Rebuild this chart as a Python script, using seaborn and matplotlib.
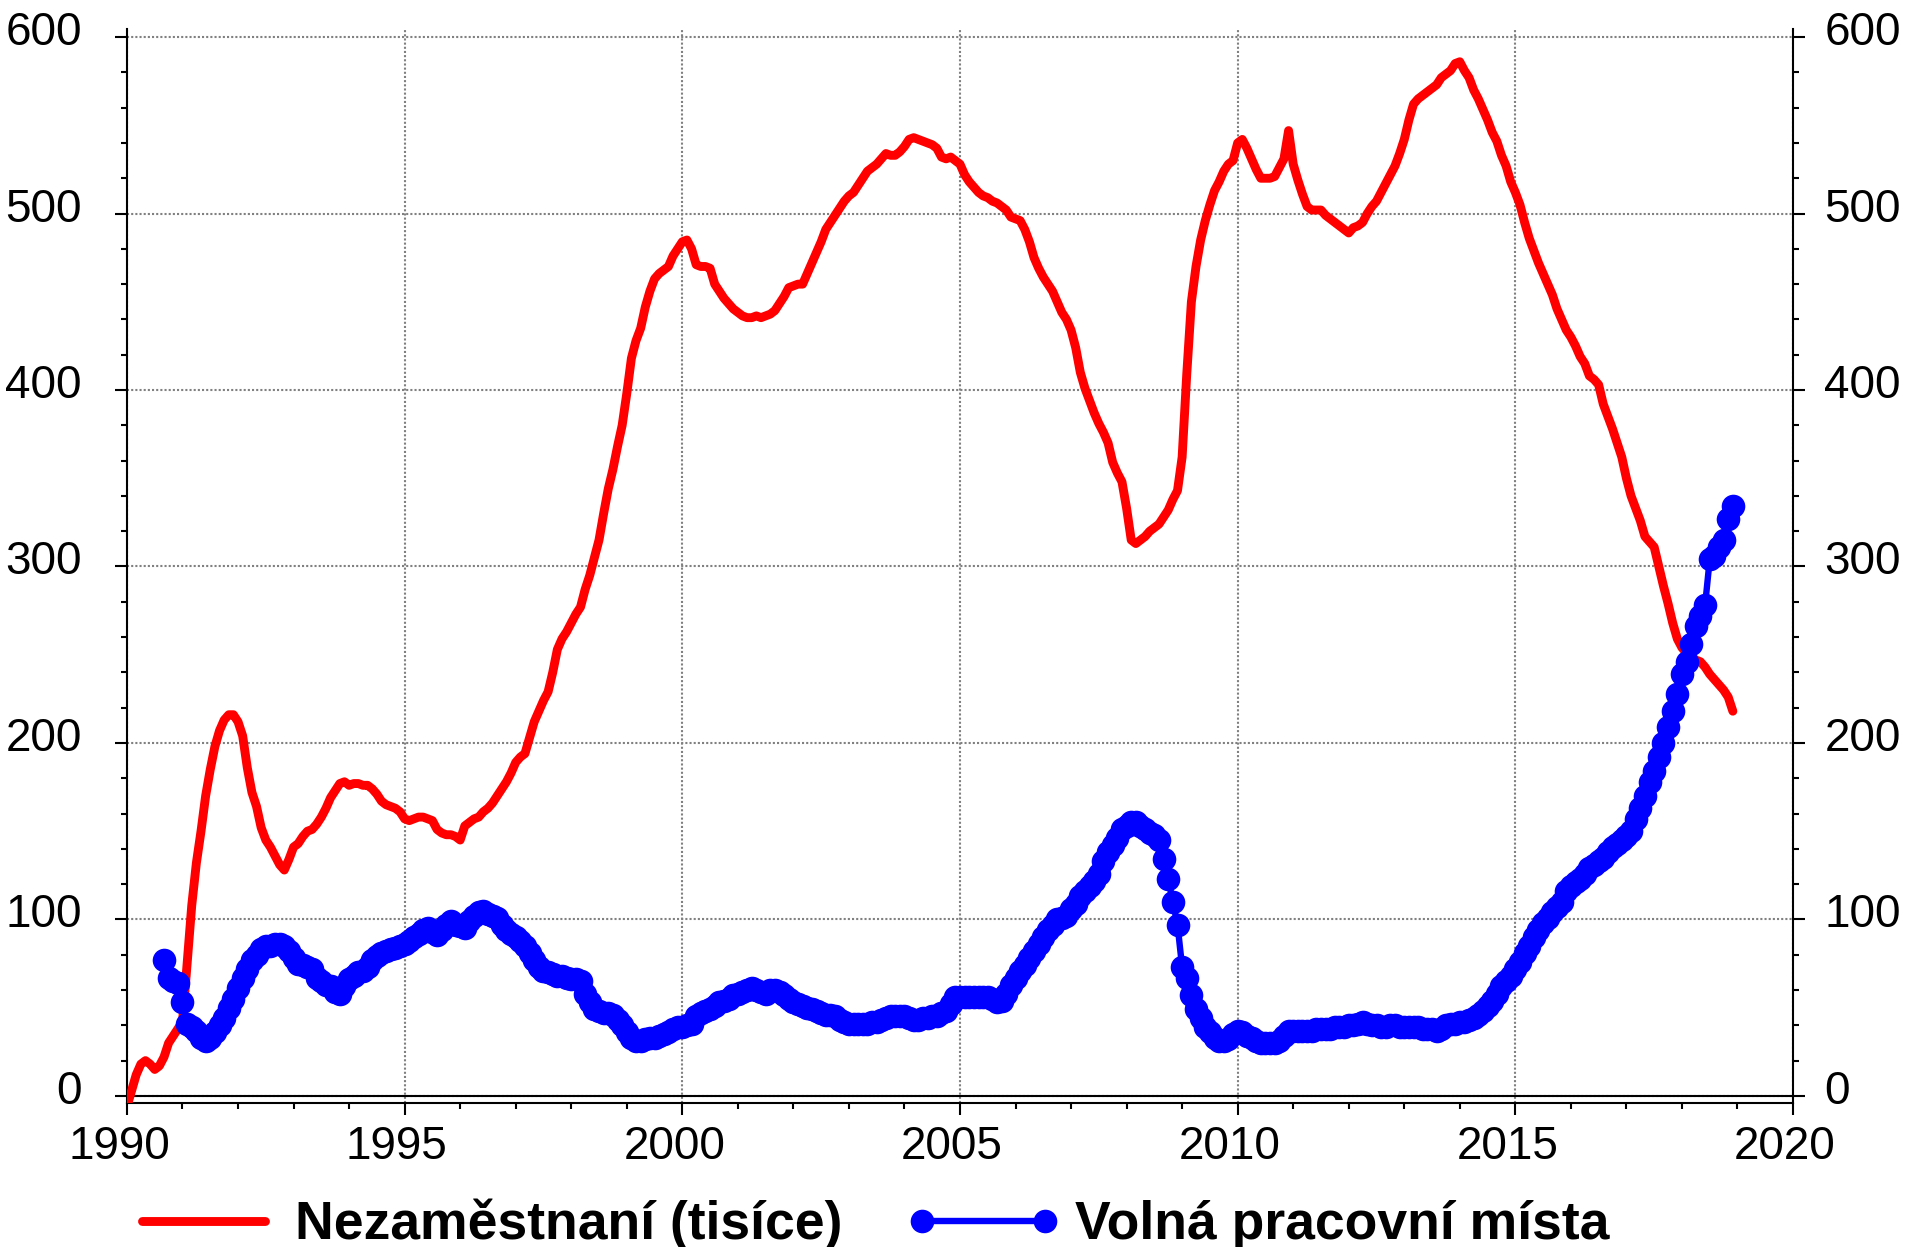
import matplotlib
matplotlib.use("Agg")
import matplotlib.pyplot as plt
import matplotlib.transforms as mtransforms
from matplotlib.ticker import MultipleLocator
import seaborn as sns
import pandas as pd
import numpy as np

sns.set_theme(style="ticks")
plt.rcParams["font.family"] = ["Liberation Sans", "DejaVu Sans"]

RED = "#FF0000"
BLUE = "#0000FF"
GRID = "#808080"

# ─── Data (thousands, monthly) ────────────────────────────────────────────────
# Nezaměstnaní, Jan 1990 - Dec 2018
unemployed = [
    -6, 3, 12, 18, 20, 18, 15, 17, 22, 30, 34, 38,               # 1990
    42, 75, 108, 132, 150, 170, 185, 198, 207, 213, 216, 216,    # 1991
    212, 204, 186, 172, 164, 152, 145, 141, 136, 131, 128, 134,  # 1992
    141, 143, 147, 150, 151, 154, 158, 163, 169, 173, 177, 178,  # 1993
    176, 177, 177, 176, 176, 174, 171, 167, 165, 164, 163, 161,  # 1994
    157, 156, 157, 158, 158, 157, 156, 151, 149, 148, 148, 147,  # 1995
    145, 153, 155, 157, 158, 161, 163, 166, 170, 174, 178, 183,  # 1996
    189, 192, 194, 203, 212, 218, 224, 229, 240, 253, 259, 263,  # 1997
    268, 273, 277, 287, 295, 305, 315, 330, 344, 355, 368, 380,  # 1998
    398, 418, 428, 435, 447, 456, 463, 466, 468, 470, 476, 480,  # 1999
    484, 485, 480, 471, 470, 470, 469, 460, 456, 452, 449, 446,  # 2000
    444, 442, 441, 441, 442, 441, 442, 443, 445, 449, 453, 458,  # 2001
    459, 460, 460, 466, 472, 478, 484, 491, 495, 499, 503, 507,  # 2002
    510, 512, 516, 520, 524, 526, 528, 531, 534, 533, 533, 535,  # 2003
    538, 542, 543, 542, 541, 540, 539, 537, 532, 531, 532, 530,  # 2004
    528, 522, 518, 515, 512, 510, 509, 507, 506, 504, 502, 498,  # 2005
    497, 496, 491, 484, 475, 469, 464, 460, 456, 450, 444, 440,  # 2006
    434, 424, 410, 401, 394, 387, 381, 376, 370, 359, 353, 348,  # 2007
    333, 315, 313, 315, 317, 320, 322, 324, 328, 332, 338, 343,  # 2008
    362, 409, 450, 470, 485, 496, 505, 513, 518, 524, 528, 530,  # 2009
    540, 542, 537, 531, 525, 520, 520, 520, 521, 526, 531, 547,  # 2010
    528, 519, 511, 504, 502, 502, 502, 499, 497, 495, 493, 491,  # 2011
    489, 492, 493, 495, 500, 504, 507, 512, 517, 522, 527, 534,  # 2012
    542, 553, 562, 565, 567, 569, 571, 573, 577, 579, 581, 585,  # 2013
    586, 581, 577, 570, 565, 559, 553, 546, 541, 533, 527, 518,  # 2014
    512, 505, 495, 486, 479, 472, 466, 460, 454, 446, 440, 434,  # 2015
    430, 425, 419, 415, 408, 406, 403, 392, 385, 378, 370, 362,  # 2016
    350, 340, 333, 326, 317, 314, 311, 300, 289, 279, 268, 259,  # 2017
    254, 251, 249, 247, 246, 243, 239, 236, 233, 230, 226, 218,  # 2018
]

# Volná pracovní místa, Sep 1990 - Dec 2018
vacancies = [
    77, 67, 65, 64,                                              # 1990
    53, 41, 39, 37, 33, 31, 33, 36, 40, 44, 50, 55,              # 1991
    61, 67, 72, 77, 80, 83, 85, 85, 86, 86, 85, 82,              # 1992
    78, 75, 74, 73, 72, 67, 65, 63, 62, 59, 58, 62,              # 1993
    66, 68, 70, 71, 73, 77, 79, 81, 82, 83, 84, 85,              # 1994
    86, 88, 90, 92, 94, 95, 93, 91, 94, 97, 99, 97,              # 1995
    96, 95, 99, 102, 104, 105, 103, 102, 101, 97, 94, 92,        # 1996
    90, 88, 85, 81, 77, 73, 71, 70, 69, 68, 68, 67,              # 1997
    66, 66, 65, 58, 53, 49, 48, 47, 47, 46, 43, 40,              # 1998
    36, 33, 31, 31, 32, 33, 33, 34, 35, 36, 38, 39,              # 1999
    39, 40, 41, 45, 47, 48, 49, 51, 53, 54, 55, 57,              # 2000
    58, 59, 60, 61, 60, 59, 58, 60, 60, 59, 57, 55,              # 2001
    53, 52, 51, 50, 49, 48, 47, 46, 46, 45, 43, 42,              # 2002
    41, 41, 41, 41, 41, 42, 42, 43, 44, 45, 45, 45,              # 2003
    45, 44, 43, 43, 44, 44, 45, 45, 47, 48, 52, 56,              # 2004
    56, 56, 56, 56, 56, 56, 56, 55, 53, 54, 58, 63,              # 2005
    67, 71, 74, 78, 82, 86, 90, 94, 97, 100, 101, 102,           # 2006
    106, 109, 113, 116, 119, 122, 126, 133, 138, 142, 146, 151,  # 2007
    153, 155, 155, 153, 151, 149, 148, 145, 134, 123, 110, 97,   # 2008
    73, 67, 57, 49, 44, 39, 36, 33, 31, 31, 32, 35,              # 2009
    37, 36, 34, 33, 31, 30, 30, 30, 30, 31, 34, 37,              # 2010
    37, 37, 37, 37, 37, 38, 38, 38, 38, 39, 39, 39,              # 2011
    40, 40, 41, 42, 41, 40, 40, 39, 39, 40, 40, 39,              # 2012
    39, 39, 39, 39, 38, 38, 38, 37, 38, 40, 41, 41,              # 2013
    42, 42, 43, 44, 46, 48, 51, 54, 58, 62, 65, 68,              # 2014
    72, 76, 81, 85, 90, 94, 98, 101, 104, 107, 110, 116,         # 2015
    119, 121, 123, 126, 129, 131, 133, 135, 138, 141, 143, 145,  # 2016
    147, 150, 157, 163, 170, 178, 184, 192, 200, 209, 218, 228,  # 2017
    239, 246, 256, 266, 272, 278, 304, 306, 311, 315, 327, 334,  # 2018
]

UNEMP_START = 1990.0          # January 1990
VAC_START = 1990 + 8 / 12     # September 1990

x_ticks = [1990, 1995, 2000, 2005, 2010, 2015, 2020]
y_ticks = [0, 100, 200, 300, 400, 500, 600]
unemp_label = "Nezaměstnaní (tisíce)"
vac_label = "Volná pracovní místa"

df_u = pd.DataFrame({"rok": UNEMP_START + np.arange(len(unemployed)) / 12,
                     "hodnota": unemployed})
df_v = pd.DataFrame({"rok": VAC_START + np.arange(len(vacancies)) / 12,
                     "hodnota": vacancies})

# ─── Figure ───────────────────────────────────────────────────────────────────
fig = plt.figure(figsize=(19.15, 12.47), dpi=100)
ax = fig.add_axes([0.0663, 0.1155, 0.8700, 0.8610])

sns.lineplot(data=df_u, x="rok", y="hodnota", color=RED,
             label=unemp_label, ax=ax, zorder=3)
red_line = ax.lines[-1]
sns.lineplot(data=df_v, x="rok", y="hodnota", color=BLUE, marker="o",
             label=vac_label, ax=ax, zorder=4)
blue_line = ax.lines[-1]

# seaborn's context scaling can win over kwargs, so set the styles on the lines
red_line.set_linewidth(6.4)
blue_line.set_linewidth(4.6)
blue_line.set_markersize(17)
blue_line.set_markeredgewidth(0)
blue_line.set_markerfacecolor(BLUE)

ax.axhline(0, color="black", linewidth=1.5, zorder=2)

ax.set_xlim(1990, 2020)
ax.set_ylim(-4, 604.4)
ax.set_xlabel("")
ax.set_ylabel("")
ax.set_xticks(x_ticks)
ax.set_yticks(y_ticks)
ax.xaxis.set_minor_locator(MultipleLocator(1))
ax.yaxis.set_minor_locator(MultipleLocator(20))
ax.grid(True, which="major", color=GRID, linestyle=(0, (1, 1)), linewidth=1.5, zorder=1)

for side in ["top", "right"]:
    ax.spines[side].set_visible(False)
for side in ["left", "bottom"]:
    ax.spines[side].set_linewidth(1.5)
    ax.spines[side].set_color("black")

ax.tick_params(axis="both", which="major", direction="out", length=8.6, width=1.5,
               color="black", labelsize=33, labelcolor="black")
ax.tick_params(axis="both", which="minor", direction="out", length=4.6, width=1.5,
               color="black")
ax.tick_params(axis="x", which="major", pad=7)
ax.tick_params(axis="y", which="major", pad=24)

# right-hand axis, same scale
ax2 = ax.twinx()
ax2.set_ylim(ax.get_ylim())
ax2.set_yticks(y_ticks)
ax2.yaxis.set_minor_locator(MultipleLocator(20))
for side in ["top", "left", "bottom"]:
    ax2.spines[side].set_visible(False)
ax2.spines["right"].set_linewidth(1.5)
ax2.spines["right"].set_color("black")
ax2.tick_params(axis="y", which="major", direction="out", length=8.6, width=1.5,
                color="black", labelsize=33, labelcolor="black", pad=14)
ax2.tick_params(axis="y", which="minor", direction="out", length=4.6, width=1.5,
                color="black")
ax2.grid(False)

# labels sit slightly above their ticks in the original
up = mtransforms.ScaledTranslation(0, 0.09, fig.dpi_scale_trans)
for lbl in ax.get_yticklabels() + ax2.get_yticklabels():
    lbl.set_transform(lbl.get_transform() + up)
left = mtransforms.ScaledTranslation(-0.08, 0, fig.dpi_scale_trans)
for lbl in ax.get_xticklabels():
    lbl.set_transform(lbl.get_transform() + left)

# ─── Legend ───────────────────────────────────────────────────────────────────
handles, labels = ax.get_legend_handles_labels()
if ax.get_legend() is not None:
    ax.get_legend().remove()
fig.legend(handles, labels, loc="center", bbox_to_anchor=(0.453, 0.018), ncol=2,
           frameon=False, prop={"weight": "bold", "size": 38.5}, labelcolor="black",
           handlelength=2.9, handletextpad=0.25, columnspacing=1.2, numpoints=2)

fig.savefig("out.png", dpi=100)
